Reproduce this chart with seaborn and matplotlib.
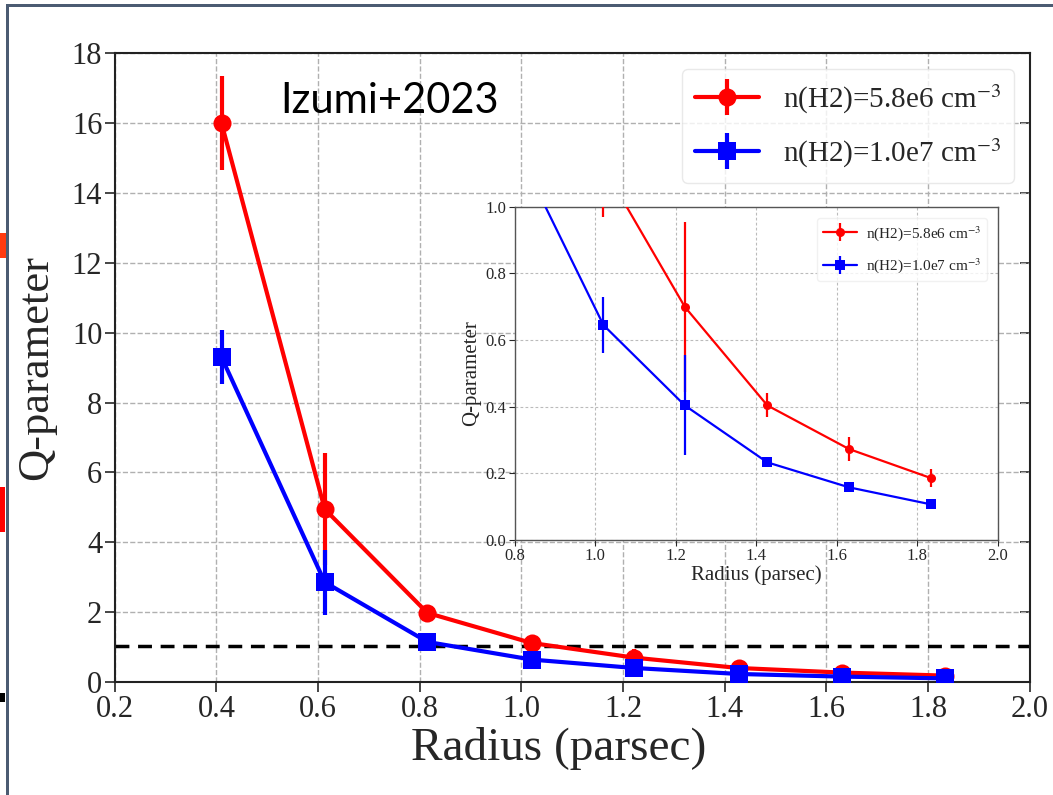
import numpy as np
import pandas as pd
import matplotlib
matplotlib.use("Agg")
import matplotlib.pyplot as plt
from matplotlib.lines import Line2D
from matplotlib.patches import Rectangle
import seaborn as sns

# Toomre-like Q parameter versus radius for two gas densities
radius = [0.41, 0.613, 0.815, 1.02, 1.222, 1.427, 1.63, 1.833]
q_58e6 = [16.0, 4.95, 1.98, 1.12, 0.70, 0.404, 0.273, 0.186]
err_58e6 = [1.35, 1.6, 0.12, 0.15, 0.255, 0.036, 0.035, 0.026]
q_10e7 = [9.3, 2.86, 1.15, 0.645, 0.404, 0.233, 0.158, 0.107]
err_10e7 = [0.77, 0.93, 0.10, 0.085, 0.15, 0.015, 0.01, 0.005]
labels = [r"n(H2)=5.8e6 cm$^{-3}$", r"n(H2)=1.0e7 cm$^{-3}$"]
colors = ["#ff0000", "#0000ff"]
markers = ["o", "s"]
q_threshold = 1.03

x_ticks = [0.2, 0.4, 0.6, 0.8, 1.0, 1.2, 1.4, 1.6, 1.8, 2.0]
y_ticks_main = [0, 2, 4, 6, 8, 10, 12, 14, 16, 18]
x_ticks_inset = [0.8, 1.0, 1.2, 1.4, 1.6, 1.8, 2.0]
y_ticks_inset = [0.0, 0.2, 0.4, 0.6, 0.8, 1.0]

df = pd.concat([
    pd.DataFrame({"radius": radius, "Q": q_58e6, "err": err_58e6, "density": labels[0]}),
    pd.DataFrame({"radius": radius, "Q": q_10e7, "err": err_10e7, "density": labels[1]}),
])

sns.set_style("white")
plt.rcParams["font.family"] = ["Liberation Serif", "DejaVu Serif"]
plt.rcParams["mathtext.fontset"] = "stix"

fig = plt.figure(figsize=(10.53, 7.95), dpi=100)
ax = fig.add_axes([0.109, 0.142, 0.869, 0.791])


def draw_series(axis, ms, lw, elw):
    handles = []
    for lab, col, mk in zip(labels, colors, markers):
        sub = df[df["density"] == lab]
        axis.errorbar(sub["radius"], sub["Q"], yerr=sub["err"], fmt="none",
                      ecolor=col, elinewidth=elw, capsize=0, zorder=3)
        sns.lineplot(data=sub, x="radius", y="Q", ax=axis, color=col,
                     marker=mk, markersize=ms, markeredgewidth=0,
                     linewidth=lw, legend=False, sort=False, zorder=4)
        h = (Line2D([], [], color=col, lw=lw, marker=mk, markersize=ms,
                    markeredgewidth=0),
             Line2D([], [], color=col, lw=0, marker="|", markersize=ms * 2.0,
                    markeredgewidth=elw))
        handles.append(h)
    return handles


handles = draw_series(ax, 13, 3.0, 3.0)
ax.axhline(q_threshold, color="black", lw=2.5, ls=(0, (4, 2.5)), zorder=2)

ax.set_xlim(0.2, 2.0)
ax.set_ylim(0, 18)
ax.set_xticks(x_ticks)
ax.set_yticks(y_ticks_main)
ax.set_xticklabels([f"{v:.1f}" for v in x_ticks])
ax.set_yticklabels([str(v) for v in y_ticks_main])
ax.grid(True, color="#b0b0b0", ls="--", lw=1.0)
ax.tick_params(axis="both", labelsize=22, length=7, width=1.2, direction="out",
               bottom=True, left=True, pad=2)
for s in ax.spines.values():
    s.set_color("#222222")
    s.set_linewidth(1.5)

# inward ticks along the right edge
sec = ax.secondary_yaxis("right")
sec.set_yticks(y_ticks_main)
sec.tick_params(direction="in", length=7, width=1.2, labelright=False)
sec.spines["right"].set_visible(False)

ax.set_xlabel("Radius (parsec)", fontsize=34, labelpad=2)
ax.xaxis.set_label_coords(0.485, -0.072)
ax.set_ylabel("Q-parameter", fontsize=32, labelpad=11)

leg = ax.legend(handles, labels, loc="upper right", fontsize=21,
                frameon=True, framealpha=0.8, edgecolor="#e4e4e4",
                borderaxespad=0.55, handlelength=2.2, borderpad=0.45,
                labelspacing=0.7, handletextpad=0.8)

fig.text(0.266, 0.873, "Izumi+2023", fontsize=30, family="Lato",
         ha="left", va="center", color="black")

# inset zoom on the low-Q region
axi = fig.add_axes([0.489, 0.3208, 0.4587, 0.419])
axi.set_facecolor("white")
hi = draw_series(axi, 6.5, 1.6, 1.6)
axi.set_xlim(0.8, 2.0)
axi.set_ylim(0.0, 1.0)
axi.set_xticks(x_ticks_inset)
axi.set_yticks(y_ticks_inset)
axi.set_xticklabels([f"{v:.1f}" for v in x_ticks_inset])
axi.set_yticklabels([f"{v:.1f}" for v in y_ticks_inset])
axi.grid(True, color="#bbbbbb", ls=(0, (2.5, 2)), lw=0.8)
axi.tick_params(axis="both", labelsize=12, length=4, width=0.8, direction="out",
                bottom=True, left=True, pad=2)
for s in axi.spines.values():
    s.set_color("#555555")
    s.set_linewidth(1.0)
axi.set_xlabel("Radius (parsec)", fontsize=15, labelpad=1)
axi.set_ylabel("Q-parameter", fontsize=15, labelpad=3)
axi.legend(hi, labels, loc="upper right", fontsize=11, frameon=True,
           framealpha=0.8, edgecolor="#eeeeee", handlelength=2.2,
           handletextpad=0.6, borderaxespad=0.7, labelspacing=0.9)

# slide frame around the figure
frame_col = "#4b5b72"
fig.add_artist(Rectangle((6 / 1053, 0), 3 / 1053, 1 - 4 / 795,
                         transform=fig.transFigure, color=frame_col, lw=0))
fig.add_artist(Rectangle((6 / 1053, 1 - 7 / 795), 1 - 6 / 1053, 3 / 795,
                         transform=fig.transFigure, color=frame_col, lw=0))
fig.add_artist(Rectangle((0, 1 - 258 / 795), 6 / 1053, 25 / 795,
                         transform=fig.transFigure, color="#ff3a10", lw=0))
fig.add_artist(Rectangle((0, 1 - 532 / 795), 5 / 1053, 45 / 795,
                         transform=fig.transFigure, color="#ff0000", lw=0))
fig.add_artist(Rectangle((0, 1 - 702 / 795), 5 / 1053, 9 / 795,
                         transform=fig.transFigure, color="#000000", lw=0))

fig.savefig("out.png", dpi=100)
